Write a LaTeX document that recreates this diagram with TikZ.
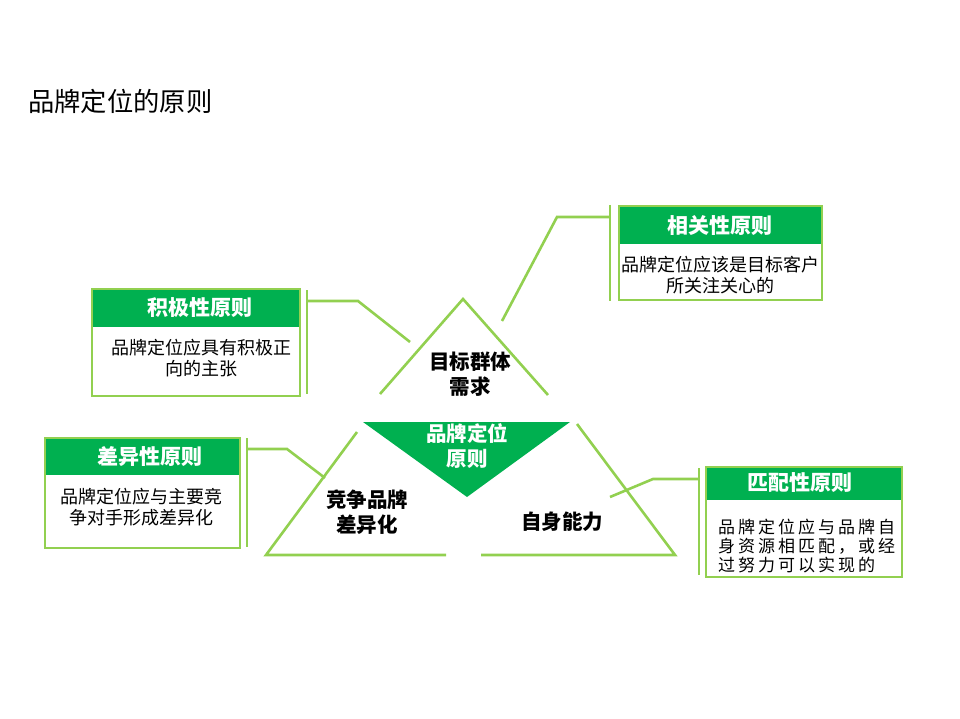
\documentclass[tikz,border=0pt]{standalone}
\usepackage{fontspec}
\setmainfont{Noto Sans CJK SC}
\newfontfamily\spacedcjk{Noto Sans CJK SC}[LetterSpace=17.6]
\definecolor{lg}{HTML}{92D050}
\definecolor{dg}{HTML}{00B050}
\tikzset{
  ln/.style={draw=lg, line width=2.6pt},
  boxline/.style={draw=lg, line width=2.6pt},
  hdr/.style={fill=dg},
  htext/.style={text=white, font=\fontsize{21}{24}\selectfont\bfseries, inner sep=0pt},
  btext/.style={font=\fontsize{18}{21}\selectfont, align=center, inner sep=0pt},
  rtext/.style={font=\spacedcjk\fontsize{17}{19}\selectfont, align=left, inner sep=0pt, anchor=west},
  ctext/.style={font=\fontsize{20.5}{25}\selectfont\bfseries, align=center, inner sep=0pt},
}
\begin{document}
\begin{tikzpicture}[x=1pt,y=-1pt]
\useasboundingbox (0,0) rectangle (960,719);

% title
\node[font=\fontsize{26.3}{30}\selectfont, anchor=west, inner sep=0pt] (title) at (28,101) {品牌定位的原则};

% triangles
\draw[ln] (380,394) -- (463,299) -- (548,395);
\fill[dg] (363,422) -- (570,422) -- (467,497) -- cycle;
\draw[ln] (357,432) -- (266,555) -- (446,555);
\draw[ln] (577,424) -- (675,555) -- (481,555);

\node[ctext] (need) at (470,374) {目标群体\\需求};
\node[ctext, text=white] (core) at (467,446) {品牌定位\\原则};
\node[ctext] (comp) at (367,512) {竞争品牌\\差异化};
\node[ctext] (self) at (562,522) {自身能力};

% box: 相关性原则
\fill[hdr] (619,206) rectangle (822,244);
\draw[boxline] (619,206) rectangle (822,300);
\node[htext] (relh) at (720,226) {相关性原则};
\node[btext] (relb) at (720,275) {品牌定位应该是目标客户\\所关注关心的};
\draw[ln] (610,205) -- (610,301);

% box: 积极性原则
\fill[hdr] (92,289) rectangle (300,327);
\draw[boxline] (92,289) rectangle (300,396);
\node[htext] (posh) at (200,308) {积极性原则};
\node[btext] (posb) at (201,358) {品牌定位应具有积极正\\向的主张};
\draw[ln] (307,290) -- (307,394);

% box: 差异性原则
\fill[hdr] (45,438) rectangle (240,475);
\draw[boxline] (45,438) rectangle (240,548);
\node[htext] (difh) at (150,457) {差异性原则};
\node[btext] (difb) at (141,507.5) {品牌定位应与主要竞\\争对手形成差异化};
\draw[ln] (247,438) -- (247,547);

% box: 匹配性原则
\fill[hdr] (706,467) rectangle (902,500);
\draw[boxline] (706,467) rectangle (902,577);
\node[htext] (math) at (800,483) {匹配性原则};
\node[rtext] (mat1) at (718,527) {品牌定位应与品牌自};
\node[rtext] (mat2) at (718,546) {身资源相匹配，或经};
\node[rtext] (mat3) at (718,565) {过努力可以实现的};
\draw[ln] (699,468) -- (699,575);

% connectors
\coordinate (c1) at (610,217);
\coordinate (c1e) at (502,321);
\draw[ln] (c1) -- (557,217) -- (c1e);
\coordinate (c2) at (307,301);
\coordinate (c2e) at (410,342);
\draw[ln] (c2) -- (358,301) -- (c2e);
\coordinate (c3) at (247,449);
\coordinate (c3e) at (325,478);
\draw[ln] (c3) -- (287,449) -- (c3e);
\coordinate (c4) at (699,479);
\coordinate (c4e) at (610,497);
\draw[ln] (c4) -- (653,479) -- (c4e);
\end{tikzpicture}
\end{document}
